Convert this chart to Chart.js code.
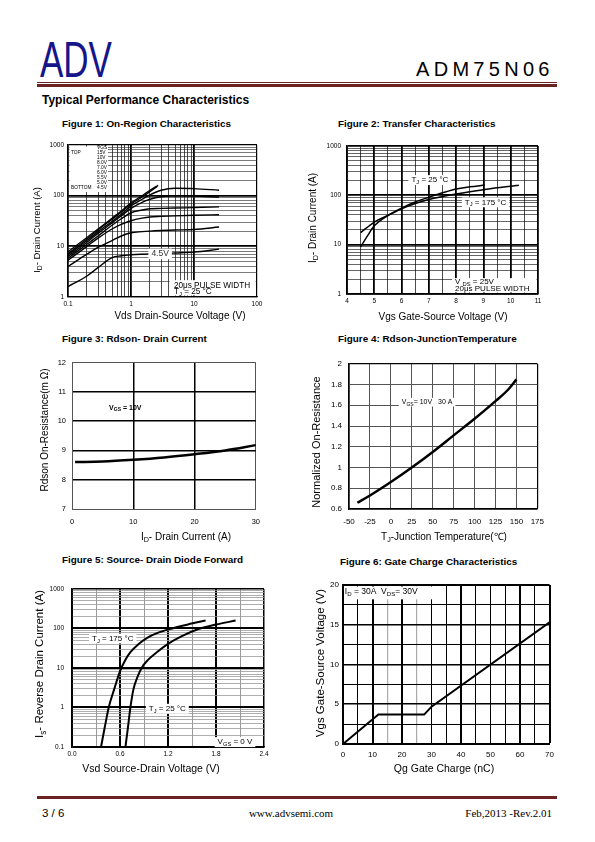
<!DOCTYPE html>
<html>
<head>
<meta charset="utf-8">
<script src="https://cdn.jsdelivr.net/npm/chart.js@4.4.1/dist/chart.umd.min.js"></script>
<style>
body{margin:0;width:595px;height:842px;position:relative;background:#fff;font-family:"Liberation Sans",Arial,sans-serif;color:#000;overflow:hidden}
.t{position:absolute;white-space:nowrap;line-height:1}
.fig{font-weight:bold;font-size:9.9px}
canvas{position:absolute}
.bar{position:absolute;left:37px;width:520px;background:#6b2222}
</style>
</head>
<body>
<div class="t" id="logo" style="left:40px;top:35px;font-size:50px;color:#15168a;transform:scaleX(0.7);transform-origin:left top">ADV</div>
<div class="t" style="left:416px;top:59px;font-size:20px;letter-spacing:4.3px">ADM75N06</div>
<div class="bar" style="top:82px;height:1px"></div>
<div class="bar" style="top:84px;height:3px"></div>
<div class="t" style="left:42px;top:94px;font-size:12px;font-weight:bold">Typical Performance Characteristics</div>

<div class="t fig" style="left:62px;top:119px">Figure 1: On-Region Characteristics</div>
<div class="t fig" style="left:338px;top:119px">Figure 2: Transfer Characteristics</div>
<div class="t fig" style="left:62px;top:334px">Figure 3: Rdson- Drain Current</div>
<div class="t fig" style="left:338px;top:334px">Figure 4: Rdson-JunctionTemperature</div>
<div class="t fig" style="left:62px;top:555px">Figure 5: Source- Drain Diode Forward</div>
<div class="t fig" style="left:340px;top:557px">Figure 6: Gate Charge Characteristics</div>

<canvas id="c1"></canvas>
<canvas id="c2"></canvas>
<canvas id="c3"></canvas>
<canvas id="c4"></canvas>
<canvas id="c5"></canvas>
<canvas id="c6"></canvas>

<div class="bar" style="top:796px;height:3px"></div>
<div class="t" style="left:42px;top:808px;font-size:11.5px">3 / 6</div>
<div class="t" style="left:291px;top:808px;font-size:11px;font-family:'Liberation Serif',serif;transform:translateX(-50%)">www.advsemi.com</div>
<div class="t" style="right:43px;top:808px;font-size:11px;font-family:'Liberation Serif',serif">Feb,2013 -Rev.2.01</div>

<script>
// Figure 1: On-region, drain current (A) vs Vds (V) per Vgs
const onVds = [0.1, 0.2, 0.3, 0.5, 0.7, 1, 1.5, 2, 3, 5, 10, 25];
const onVds15 = [0.1, 0.2, 0.3, 0.5, 0.7, 1, 1.5, 2, 2.7];
const onVds10 = [0.1, 0.2, 0.3, 0.5, 0.7, 1, 1.5, 2, 2.6];
const id15V = [7.8, 15, 22, 36, 50, 72, 100, 128, 160];
const id10V = [7.2, 14, 21, 34, 47, 68, 94, 120, 152];
const id8V = [6.8, 13, 19.5, 31, 43, 63, 85, 104, 128, 140, 138, 128];
const id7V = [6.3, 12, 18, 29, 40, 56, 74, 85, 95, 99, 98, 94];
const id6V = [5.8, 11, 16, 26, 35, 46, 52, 55, 56, 57, 58, 60];
const id55V = [5.3, 10, 14.5, 22, 27, 32, 36, 38, 39, 40, 41, 42];
const id5V = [4, 7, 9.5, 13, 16, 18.5, 19.5, 20, 20.5, 21, 21.5, 24];
const id45V = [1.6, 2.6, 3.8, 6.0, 6.5, 6.8, 7, 7.1, 7.2, 7.4, 7.7, 8.8];

// Figure 2: transfer, drain current (A) vs Vgs (V)
const trVgs25 = [4.5, 4.75, 5, 5.5, 6, 6.5, 7, 7.5, 8, 8.5, 9.05];
const trId25 = [9, 15, 24, 39, 55, 73, 91, 112, 134, 148, 161];
const trVgs175 = [4.5, 5, 5.5, 6, 6.5, 7, 7.5, 8, 8.5, 9, 9.5, 10, 10.3];
const trId175 = [17.5, 28.7, 39, 53, 68, 82, 94, 106, 118, 130, 142, 152, 160];

// Figure 3: Rdson (mOhm) vs drain current (A)
const rdsId = [0.5, 5, 10, 15, 20, 25, 30];
const rdsOhm = [8.6, 8.62, 8.68, 8.76, 8.87, 9.0, 9.18];

// Figure 4: normalized on-resistance vs junction temperature
const tjTemp = [-40, -25, 0, 25, 50, 75, 100, 125, 140, 150];
const tjNorm = [0.66, 0.73, 0.86, 1.0, 1.15, 1.31, 1.47, 1.64, 1.75, 1.85];

// Figure 5: diode forward, reverse drain current (A) vs Vsd (V)
const sdV175 = [0.363, 0.41, 0.459, 0.53, 0.597, 0.66, 0.73, 0.83, 0.94, 1.07, 1.21, 1.45, 1.67];
const sdI175 = [0.1, 0.32, 1, 3, 8, 15, 25, 40, 58, 77, 95, 126, 158];
const sdV25 = [0.668, 0.70, 0.73, 0.77, 0.82, 0.87, 0.95, 1.06, 1.21, 1.38, 1.565, 1.8, 2.045];
const sdI25 = [0.1, 0.32, 1, 3, 6, 10, 16, 25, 42, 65, 94, 125, 158];

// Figure 6: gate charge, Vgs (V) vs Qg (nC)
const gcQ = [0, 12, 27.5, 30, 70];
const gcV = [0, 3.7, 3.7, 4.7, 15.3];

// tick labels
const c1XLab = [0.1, 1, 10, 100], c1YLab = [1, 10, 100, 1000];
const c2XLab = [4, 5, 6, 7, 8, 9, 10, 11], c2YLab = [1, 10, 100, 1000];
const c3XLab = [0, 10, 20, 30], c3YLab = [7, 8, 9, 10, 11, 12];
const c4XLab = [-50, -25, 0, 25, 50, 75, 100, 125, 150, 175];
const c4YLab = [0.6, 0.8, 1, 1.2, 1.4, 1.6, 1.8, 2];
const c5XLab = [0, 0.6, 1.2, 1.8, 2.4], c5XTxt = ['0.0', '0.6', '1.2', '1.8', '2.4'];
const c5YLab = [0.1, 1, 10, 100, 1000];
const c6XLab = [0, 10, 20, 30, 40, 50, 60, 70], c6YLab = [0, 5, 10, 15, 20];

const FONT = '"Liberation Sans", Arial, Helvetica, sans-serif';
Chart.defaults.font.family = FONT;
Chart.defaults.color = '#000';

const zip = (xs, ys) => xs.map((x, i) => ({x, y: ys[i]}));
const near = (a, b) => Math.abs(a - b) <= 1e-6 * Math.max(1, Math.abs(a));

function linGrid(min, max, step) {
	const n = Math.round((max - min) / step);
	return Array.from({length: n + 1}, (_, i) => +(min + i * step).toFixed(6));
}
function logGrid(min, max) {
	const out = [];
	for (let e = Math.floor(Math.log10(min) + 1e-9); Math.pow(10, e) <= max * 1.0001; e++) {
		for (let s = 1; s < 10; s++) {
			const v = +(s * Math.pow(10, e)).toPrecision(6);
			if (v >= min * 0.9999 && v <= max * 1.0001) out.push(v);
		}
	}
	return out;
}
const isDecade = v => near(Math.log10(v), Math.round(Math.log10(v)));

function rich(ctx, x, y, n) {
	const base = n.size;
	let w = 0;
	const segs = n.parts.map(p => {
		const sub = p[1] === 'sub';
		const size = sub ? base * 0.72 : base;
		ctx.font = (n.bold ? 'bold ' : '') + size + 'px ' + FONT;
		const sw = ctx.measureText(p[0]).width;
		w += sw;
		return {t: p[0], sub, size, sw};
	});
	let sx = n.align === 'center' ? x - w / 2 : x;
	if (n.bg) {
		ctx.fillStyle = '#fff';
		ctx.fillRect(sx - 3, y - base * 0.62, w + 6, base * 1.24);
	}
	ctx.fillStyle = n.color || '#000';
	ctx.textBaseline = 'middle';
	ctx.textAlign = 'left';
	segs.forEach(s => {
		ctx.font = (n.bold ? 'bold ' : '') + s.size + 'px ' + FONT;
		ctx.fillText(s.t, sx, y + (s.sub ? base * 0.3 : 0));
		sx += s.sw;
	});
}

function notes(cfg) {
	return {
		id: 'notes',
		beforeDatasetsDraw(chart) {
			const {ctx, chartArea: a, scales: {x, y}} = chart;
			ctx.save();
			ctx.fillStyle = '#fff';
			(cfg.boxes || []).forEach(b => {
				let x1, x2, y1, y2;
				if (b.rel) {
					x1 = a.left + b.r[0]; x2 = a.left + b.r[1]; y2 = a.top + b.r[2]; y1 = a.top + b.r[3];
				} else {
					x1 = x.getPixelForValue(b.r[0]); x2 = x.getPixelForValue(b.r[1]);
					y1 = y.getPixelForValue(b.r[2]); y2 = y.getPixelForValue(b.r[3]);
				}
				x1 = Math.max(a.left + 1.5, x1); x2 = Math.min(a.right - 1.5, x2);
				y1 = Math.min(a.bottom - 1.5, y1); y2 = Math.max(a.top + 1.5, y2);
				ctx.fillRect(x1, y2, x2 - x1, y1 - y2);
			});
			ctx.restore();
		},
		afterDatasetsDraw(chart) {
			const {ctx, chartArea: a, scales: {x, y}} = chart;
			ctx.save();
			(cfg.items || []).forEach(n => {
				const px = n.rel ? a.left + n.x : x.getPixelForValue(n.x);
				const py = n.rel ? a.top + n.y : y.getPixelForValue(n.y);
				rich(ctx, px, py, n);
			});
			const o = cfg.at;
			if (cfg.xTitle) rich(ctx, cfg.xTitle.x - o[0], cfg.xTitle.y - o[1], Object.assign({align: 'center'}, cfg.xTitle));
			if (cfg.yTitle) {
				ctx.save();
				ctx.translate(cfg.yTitle.x - o[0], cfg.yTitle.y - o[1]);
				ctx.rotate(-Math.PI / 2);
				rich(ctx, 0, 0, Object.assign({align: 'center'}, cfg.yTitle));
				ctx.restore();
			}
			ctx.restore();
		}
	};
}

function axis(o) {
	return {
		type: o.log ? 'logarithmic' : 'linear',
		min: o.min,
		max: o.max,
		afterBuildTicks: s => { s.ticks = o.grid.map(v => ({value: v})); },
		afterFit: s => { if (o.horiz) s.height = o.size; else s.width = o.size; },
		ticks: {
			autoSkip: false, maxRotation: 0, minRotation: 0,
			padding: o.pad, color: '#000', font: {size: o.font},
			callback: v => {
				const i = o.labels.findIndex(l => near(l, v));
				return i < 0 ? '' : (o.text ? o.text[i] : String(o.labels[i]));
			}
		},
		grid: {
			drawTicks: false,
			color: c => o.style(c.tick.value)[0],
			lineWidth: c => o.style(c.tick.value)[1]
		},
		border: {color: o.borderColor || '#000', width: o.border}
	};
}

function line(points, width, tension) {
	return {
		data: points, borderColor: '#000', borderWidth: width, pointRadius: 0,
		fill: false, cubicInterpolationMode: tension ? 'monotone' : 'default', tension: 0
	};
}

function build(id, area, box, datasets, xo, yo, note) {
	const cv = document.getElementById(id);
	const W = box[2] - box[0], H = box[3] - box[1];
	cv.width = W; cv.height = H;
	cv.style.left = box[0] + 'px'; cv.style.top = box[1] + 'px';
	cv.style.width = W + 'px'; cv.style.height = H + 'px';
	xo.horiz = true; xo.size = box[3] - area.B;
	yo.size = area.L - box[0];
	note.at = [box[0], box[1]];
	return new Chart(cv, {
		type: 'line',
		data: {datasets},
		options: {
			responsive: false, animation: false, devicePixelRatio: 1,
			layout: {padding: {left: 0, top: area.T - box[1], right: box[2] - area.R, bottom: 0}},
			plugins: {legend: {display: false}, tooltip: {enabled: false}},
			scales: {x: axis(xo), y: axis(yo)}
		},
		plugins: [notes(note)]
	});
}

const TJ = (t, s) => [['T'], ['J', 'sub'], [t]];

// Figure 1
build('c1', {L: 68, T: 145, R: 257, B: 297}, [24, 136, 266, 324], [
	line(zip(onVds15, id15V), 1.3, true),
	line(zip(onVds10, id10V), 1.3, true),
	line(zip(onVds, id8V), 1.4, true),
	line(zip(onVds, id7V), 1.4, true),
	line(zip(onVds, id6V), 1.4, true),
	line(zip(onVds, id55V), 1.4, true),
	line(zip(onVds, id5V), 1.4, true),
	line(zip(onVds, id45V), 1.4, true)
], {
	log: true, min: 0.1, max: 100, grid: logGrid(0.1, 100), labels: c1XLab, font: 6.5, pad: 3,
	style: v => (near(v, 1) || near(v, 10)) ? ['#000', 1.8] : near(v, 100) ? ['#000', 1.2] : v > 10 ? ['rgba(0,0,0,0)', 0] : ['#000', 0.7],
	border: 1.2
}, {
	log: true, min: 1, max: 1000, grid: logGrid(1, 1000), labels: c1YLab, font: 6.5, pad: 4,
	style: v => (near(v, 10) || near(v, 100)) ? ['#000', 1.8] : isDecade(v) ? ['#000', 1.2] : ['#222', 0.6],
	border: 1.2
}, {
	boxes: [{rel: true, r: [0, 40, 0, 47]}, {r: [4.1, 100, 1, 2.15]}],
	items: [
		{rel: true, x: 29, y: 3, parts: [['VGS']], size: 4.8},
		{rel: true, x: 3, y: 8, parts: [['TOP']], size: 4.8},
		{rel: true, x: 29, y: 8, parts: [['15V']], size: 4.8},
		{rel: true, x: 29, y: 13, parts: [['10V']], size: 4.8},
		{rel: true, x: 29, y: 18, parts: [['8.0V']], size: 4.8},
		{rel: true, x: 29, y: 23, parts: [['7.0V']], size: 4.8},
		{rel: true, x: 29, y: 28, parts: [['6.0V']], size: 4.8},
		{rel: true, x: 29, y: 33, parts: [['5.5V']], size: 4.8},
		{rel: true, x: 29, y: 38, parts: [['5.0V']], size: 4.8},
		{rel: true, x: 3, y: 43, parts: [['BOTTOM']], size: 4.8},
		{rel: true, x: 29, y: 43, parts: [['4.5V']], size: 4.8},
		{x: 2.9, y: 7.1, parts: [['4.5V']], size: 8.5, align: 'center', bg: true, color: '#333'},
		{x: 4.8, y: 1.68, parts: [['20\u03bcs PULSE WIDTH']], size: 8.2},
		{x: 4.8, y: 1.26, parts: TJ(' = 25 \u00b0C'), size: 8.2}
	],
	xTitle: {x: 180, y: 316, parts: [['Vds Drain-Source Voltage (V)']], size: 10},
	yTitle: {x: 37, y: 230, parts: [['I'], ['D', 'sub'], ['- Drain Current (A)']], size: 9.5}
});

// Figure 2
build('c2', {L: 347, T: 145, R: 538, B: 294}, [304, 136, 548, 324], [
	line(zip(trVgs25, trId25), 1.5, true),
	line(zip(trVgs175, trId175), 1.5, true)
], {
	min: 4, max: 11, grid: linGrid(4, 11, 0.5), labels: c2XLab, font: 6.5, pad: 3,
	style: v => near(v, Math.round(v)) ? ['#000', 1.8] : ['#000', 0.7],
	border: 1.5
}, {
	log: true, min: 1, max: 1000, grid: logGrid(1, 1000), labels: c2YLab, font: 6.5, pad: 6,
	style: v => isDecade(v) ? ['#000', 1.8] : ['#000', 0.6],
	border: 1.5
}, {
	boxes: [{r: [7.85, 11, 1, 2.1]}],
	items: [
		{x: 6.36, y: 203, parts: TJ(' = 25 \u00b0C'), size: 8, bg: true},
		{x: 8.32, y: 72, parts: TJ(' = 175 \u00b0C'), size: 8, bg: true},
		{x: 7.96, y: 1.74, parts: [['V '], ['DS', 'sub'], [' = 25V']], size: 8},
		{x: 7.96, y: 1.26, parts: [['20\u03bcs PULSE WIDTH']], size: 8}
	],
	xTitle: {x: 443, y: 317, parts: [['Vgs Gate-Source Voltage (V)']], size: 10},
	yTitle: {x: 313, y: 218, parts: [['I'], ['D', 'sub'], ['- Drain Current (A)']], size: 10}
});

// Figure 3
build('c3', {L: 72, T: 361, R: 259, B: 509}, [30, 352, 268, 546], [
	line(zip(rdsId, rdsOhm), 2.5, true)
], {
	min: 0, max: 30, grid: linGrid(0, 30, 10), labels: c3XLab, font: 7.5, pad: 8,
	style: v => (near(v, 10) || near(v, 20)) ? ['#000', 1.5] : ['#555', 1],
	border: 1, borderColor: '#555'
}, {
	min: 7, max: 12, grid: linGrid(7, 12, 1), labels: c3YLab, font: 7.5, pad: 6,
	style: v => (v > 7.5 && v < 11.5) ? ['#000', 1.5] : ['#555', 1],
	border: 1, borderColor: '#555'
}, {
	items: [
		{x: 6.05, y: 10.45, parts: [['V'], ['GS', 'sub'], [' = 10V']], size: 7, bold: true}
	],
	xTitle: {x: 186, y: 537, parts: [['I'], ['D', 'sub'], ['- Drain Current (A)']], size: 10},
	yTitle: {x: 45, y: 430, parts: [['Rdson On-Resistance(m \u03a9)']], size: 10}
});

// Figure 4
build('c4', {L: 349, T: 362, R: 541, B: 509}, [306, 352, 552, 546], [
	line(zip(tjTemp, tjNorm), 2.5, true)
], {
	min: -50, max: 175, grid: linGrid(-50, 175, 25), labels: c4XLab, font: 8, pad: 8,
	style: v => near(v, 175) ? ['#000', 1.2] : ['#555', 1],
	border: 1.2
}, {
	min: 0.6, max: 2, grid: linGrid(0.6, 2, 0.2), labels: c4YLab, font: 8, pad: 7,
	style: v => near(v, 2) ? ['#000', 1.2] : ['#555', 1],
	border: 1.2
}, {
	items: [
		{x: 13, y: 1.63, parts: [['V'], ['GS', 'sub'], ['= 10V   30 A']], size: 7, bg: true}
	],
	xTitle: {x: 444, y: 537, parts: [['T'], ['J', 'sub'], ['-Junction Temperature(\u2103)']], size: 10},
	yTitle: {x: 317, y: 442, parts: [['Normalized On-Resistance']], size: 11}
});

// Figure 5
build('c5', {L: 72, T: 586, R: 264, B: 747}, [28, 577, 272, 780], [
	line(zip(sdV175, sdI175), 2, true),
	line(zip(sdV25, sdI25), 2, true)
], {
	min: 0, max: 2.4, grid: linGrid(0, 2.4, 0.3), labels: c5XLab, text: c5XTxt, font: 6.5, pad: 3,
	style: v => near(v, 2.4) ? ['#000', 1.5] : c5XLab.some(l => near(l, v)) ? ['#000', 2] : ['#999', 1],
	border: 1.5
}, {
	log: true, min: 0.1, max: 1000, grid: logGrid(0.1, 1000), labels: c5YLab, font: 6.5, pad: 8,
	style: v => near(v, 1000) ? ['#000', 1.5] : isDecade(v) ? ['#000', 2] : ['#999', 0.8],
	border: 1.5
}, {
	items: [
		{x: 0.25, y: 55.5, parts: TJ(' = 175 \u00b0C'), size: 8, bg: true},
		{x: 0.96, y: 0.93, parts: TJ(' = 25 \u00b0C'), size: 8, bg: true},
		{x: 1.82, y: 0.133, parts: [['V'], ['GS', 'sub'], [' = 0 V']], size: 8, bg: true}
	],
	xTitle: {x: 151, y: 769, parts: [['Vsd Source-Drain Voltage (V)']], size: 10.5},
	yTitle: {x: 40, y: 664, parts: [['I'], ['s', 'sub'], ['- Reverse Drain Current (A)']], size: 11.5}
});

// Figure 6
build('c6', {L: 343, T: 585, R: 551, B: 744}, [306, 576, 560, 780], [
	line(zip(gcQ, gcV), 2, false)
], {
	min: 0, max: 70, grid: linGrid(0, 70, 5), labels: c6XLab, font: 8, pad: 6,
	style: v => [10, 20, 40, 60, 70].some(l => near(l, v)) ? ['#000', 2] : [15, 25].some(l => near(l, v)) ? ['#aaa', 1.2] : ['#000', 1],
	border: 2
}, {
	min: 0, max: 20, grid: linGrid(0, 20, 2.5), labels: c6YLab, font: 8, pad: 4,
	style: v => near(v, 20) ? ['#000', 2] : c6YLab.some(l => near(l, v)) ? ['#000', 1.6] : ['#000', 1],
	border: 2
}, {
	boxes: [{r: [0, 30.3, 18.2, 20]}],
	items: [
		{x: 0.6, y: 19.1, parts: [['I'], ['D', 'sub'], [' = 30A  V'], ['DS', 'sub'], ['= 30V']], size: 8.5}
	],
	xTitle: {x: 444, y: 769, parts: [['Qg Gate Charge (nC)']], size: 10.5},
	yTitle: {x: 321, y: 663, parts: [['Vgs Gate-Source Voltage (V)']], size: 11.5}
});
</script>
</body>
</html>
